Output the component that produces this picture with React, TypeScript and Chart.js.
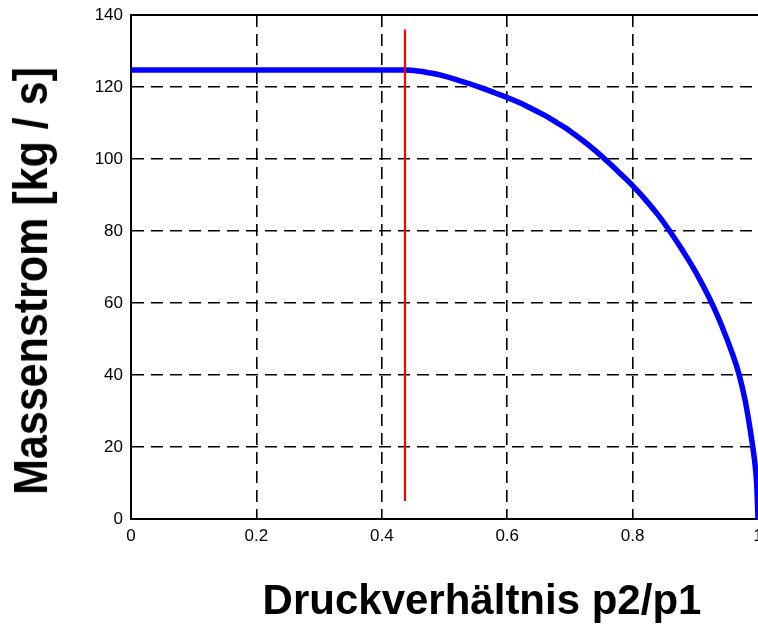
import React, { useEffect, useRef } from "react";
import { Chart, registerables } from "chart.js";

Chart.register(...registerables);

// Pressure ratio p2/p1 (x) and mass flow in kg/s (y)
const pressureRatio = [0, 0.437, 0.46, 0.48, 0.5, 0.52, 0.54, 0.56, 0.58, 0.6, 0.62, 0.64, 0.66, 0.68, 0.7, 0.72, 0.74, 0.76, 0.78, 0.8, 0.82, 0.84, 0.86, 0.88, 0.9, 0.92, 0.94, 0.96, 0.97, 0.98, 0.99, 0.995, 0.998, 1.0];
const massFlow = [124.7, 124.7, 124.4, 123.8, 123.0, 122.0, 120.9, 119.7, 118.4, 117.1, 115.6, 113.9, 112.1, 110.0, 107.8, 105.2, 102.4, 99.3, 96.0, 92.6, 88.8, 84.6, 79.8, 74.5, 68.8, 62.2, 54.6, 45.5, 40.0, 32.5, 22.0, 15.5, 9.5, 0];

// Critical pressure ratio marker (red vertical line)
const criticalX = [0.437, 0.437];
const criticalY = [5, 136];

const xTitle = "Druckverhältnis p2/p1";
const yTitle = "Massenstrom [kg / s]";

const FONT = "'Liberation Sans', Arial, Helvetica, sans-serif";

export default function App() {
  const canvasRef = useRef<HTMLCanvasElement | null>(null);

  useEffect(() => {
    const canvas = canvasRef.current;
    if (!canvas) return;

    const topBorder = {
      id: "topBorder",
      afterDraw(chart: any) {
        const { ctx, chartArea } = chart;
        ctx.save();
        ctx.strokeStyle = "#000";
        ctx.lineWidth = 2;
        ctx.beginPath();
        ctx.moveTo(chartArea.left, chartArea.top);
        ctx.lineTo(chartArea.right + 30, chartArea.top);
        ctx.stroke();
        ctx.restore();
      },
    };

    const chart = new Chart(canvas, {
      type: "scatter",
      data: {
        datasets: [
          {
            label: "kritisch",
            data: criticalX.map((x, i) => ({ x, y: criticalY[i] })),
            showLine: true,
            borderColor: "#ff0000",
            borderWidth: 2.2,
            pointRadius: 0,
            fill: false,
          },
          {
            label: "Massenstrom",
            data: pressureRatio.map((x, i) => ({ x, y: massFlow[i] })),
            showLine: true,
            borderColor: "#0000ff",
            borderWidth: 5.5,
            pointRadius: 0,
            cubicInterpolationMode: "monotone",
            fill: false,
          },
        ],
      },
      options: {
        responsive: false,
        animation: false,
        clip: false as any,
        layout: { padding: { top: 15, right: 22, left: 0, bottom: 0 } },
        plugins: {
          legend: { display: false },
          tooltip: { enabled: false },
          title: { display: false },
        },
        scales: {
          x: {
            type: "linear",
            min: 0,
            max: 1,
            afterFit: (scale: any) => {
              scale.height = 108;
            },
            ticks: {
              stepSize: 0.2,
              color: "#000",
              padding: 7,
              maxRotation: 0,
              font: { family: FONT, size: 17 },
              callback: (v: any) => String(Math.round(Number(v) * 10) / 10),
            },
            grid: {
              color: (c: any) =>
                c.tick && (c.tick.value === 1 || c.tick.value === 0) ? "rgba(0,0,0,0)" : "#000",
              lineWidth: 1.6,
              drawTicks: false,
            },
            border: { display: true, color: "#000", width: 2, dash: [12, 7] },
          },
          y: {
            type: "linear",
            min: 0,
            max: 140,
            afterFit: (scale: any) => {
              scale.width = 131;
              scale.paddingTop = 0;
              scale.paddingBottom = 0;
            },
            ticks: {
              stepSize: 20,
              color: "#000",
              padding: 8,
              font: { family: FONT, size: 17 },
            },
            grid: {
              color: (c: any) =>
                c.tick && (c.tick.value === 0 || c.tick.value === 140) ? "rgba(0,0,0,0)" : "#000",
              lineWidth: 1.6,
              drawTicks: false,
            },
            border: { display: true, color: "#000", width: 2, dash: [12, 7] },
          },
        },
      },
      plugins: [topBorder],
    });

    return () => chart.destroy();
  }, []);

  return (
    <div
      style={{
        position: "fixed",
        left: 0,
        top: 0,
        width: 758,
        height: 627,
        overflow: "hidden",
        background: "#fff",
      }}
    >
      <canvas ref={canvasRef} width={780} height={627} style={{ position: "absolute", left: 0, top: 0 }} />
      <div
        style={{
          position: "absolute",
          left: 0,
          top: 0,
          fontFamily: FONT,
          fontWeight: "bold",
          fontSize: 42,
          lineHeight: "42px",
          whiteSpace: "nowrap",
          color: "#000",
          transformOrigin: "0 0",
          transform: "translate(482px, 600px) translate(-50%, -50%)",
        }}
      >
        {xTitle}
      </div>
      <div
        style={{
          position: "absolute",
          left: 0,
          top: 0,
          fontFamily: FONT,
          fontWeight: "bold",
          fontSize: 43,
          lineHeight: "43px",
          whiteSpace: "nowrap",
          color: "#000",
          transformOrigin: "0 0",
          transform: "translate(31px, 281px) scaleX(1.1) rotate(-90deg) translate(-50%, -50%)",
        }}
      >
        {yTitle}
      </div>
    </div>
  );
}
